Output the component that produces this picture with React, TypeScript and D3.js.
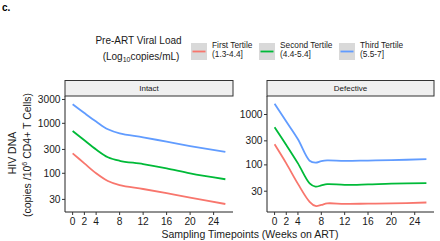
import React from "react";
import * as d3 from "d3";

const weeksIntact = [0, 2, 4, 6, 8, 12, 16, 20, 26];
const intactFirst = [251, 158, 100, 70, 58, 48.5, 40, 32.5, 24.3];
const intactSecond = [701, 457, 299, 209, 178, 153, 126, 100, 76];
const intactThird = [2400, 1603, 1084, 759, 631, 525, 429, 351, 267];

const weeksDefective = [0, 2, 4, 6, 7, 8, 9, 12, 16, 20, 26];
const defFirst = [256, 107, 42, 18.5, 15.3, 16, 17.2, 16.8, 17, 17.2, 17.9];
const defSecond = [560, 248, 107, 43, 37, 39, 41.5, 40, 41, 42.5, 43.6];
const defThird = [1637, 725, 322, 121, 111, 119, 123, 120, 122, 124, 130];

const xTicks = [0, 2, 4, 8, 12, 16, 20, 24];
const intactYTicks = [30, 100, 300, 1000, 3000];
const defYTicks = [30, 100, 300, 1000];
const seriesColors = ["#F8766D", "#00BA38", "#619CFF"];
const legendLabels = [["First Tertile", "(1.3-4.4]"], ["Second Tertile", "(4.4-5.4]"], ["Third Tertile", "(5.5-7]"]];

const FONT = "Liberation Sans, Arial, Helvetica, sans-serif";

function Panel({ x0, x1, yDomain, yTicks, weeks, series, title }: any) {
  const top = 96, bottom = 212;
  const x = d3.scaleLinear().domain([-1.3, 27.3]).range([x0, x1]);
  const y = d3.scaleLog().domain(yDomain).range([bottom, top]);
  const line = d3.line<number>().x((_, i) => x(weeks[i])).y((d) => y(d)).curve(d3.curveCatmullRom.alpha(0.5));
  return (
    <g>
      <rect x={x0} y={80.5} width={x1 - x0} height={15.5} fill="#F0F0F0" stroke="#333" strokeWidth={1} />
      <text x={(x0 + x1) / 2} y={91} fontSize={8} textAnchor="middle" fill="#1a1a1a" fontFamily={FONT}>{title}</text>
      {series.map((s: number[], i: number) => (
        <path key={i} d={line(s) || ""} fill="none" stroke={seriesColors[i]} strokeWidth={1.8} strokeLinejoin="round" />
      ))}
      <line x1={x0} x2={x0} y1={top} y2={bottom} stroke="#222" strokeWidth={1} />
      <line x1={x0} x2={x1} y1={bottom} y2={bottom} stroke="#222" strokeWidth={1} />
      {yTicks.map((t: number) => (
        <g key={t}>
          <line x1={x0 - 3} x2={x0} y1={y(t)} y2={y(t)} stroke="#333" strokeWidth={1} />
          <text x={x0 - 4.5} y={y(t) + 3.6} fontSize={10.2} textAnchor="end" fill="#1a1a1a" fontFamily={FONT}>{t}</text>
        </g>
      ))}
      {xTicks.map((t) => (
        <g key={t}>
          <line x1={x(t)} x2={x(t)} y1={bottom} y2={bottom + 3} stroke="#333" strokeWidth={1} />
          <text x={x(t)} y={bottom + 13} fontSize={10.2} textAnchor="middle" fill="#1a1a1a" fontFamily={FONT}>{t}</text>
        </g>
      ))}
    </g>
  );
}

export default function App() {
  return (
    <svg width={440} height={241} style={{ position: "absolute", left: 0, top: 0 }} fontFamily={FONT}>
      <rect width={440} height={241} fill="#fff" />
      <text x={2} y={11} fontSize={10} fontWeight="bold" fill="#000">c.</text>
      <text x={138.5} y={43.5} fontSize={10} textAnchor="middle" fill="#1a1a1a">Pre-ART Viral Load</text>
      <text x={141} y={60} fontSize={10} textAnchor="middle" fill="#1a1a1a">
        (Log<tspan fontSize={7} dy={2}>10</tspan><tspan dy={-2}>copies/mL)</tspan>
      </text>
      {legendLabels.map((lab, i) => {
        const bx = [191, 259, 339][i];
        return (
          <g key={i}>
            <rect x={bx} y={43} width={16} height={17} fill="#D9D9D9" />
            <line x1={bx + 1.5} x2={bx + 14.5} y1={51.5} y2={51.5} stroke={seriesColors[i]} strokeWidth={1.8} />
            <text x={bx + 21} y={48} fontSize={8.3} fill="#1a1a1a">{lab[0]}</text>
            <text x={bx + 21} y={57} fontSize={8.3} fill="#1a1a1a">{lab[1]}</text>
          </g>
        );
      })}
      <Panel x0={65} x1={233} yDomain={[16.8, 3520]} yTicks={intactYTicks} weeks={weeksIntact}
        series={[intactFirst, intactSecond, intactThird]} title="Intact" />
      <Panel x0={267} x1={434} yDomain={[11.6, 2330]} yTicks={defYTicks} weeks={weeksDefective}
        series={[defFirst, defSecond, defThird]} title="Defective" />
      <text transform="translate(16,153) rotate(-90)" fontSize={10.5} textAnchor="middle" fill="#1a1a1a">HIV DNA</text>
      <text transform="translate(31,155) rotate(-90)" fontSize={10.5} textAnchor="middle" fill="#1a1a1a">
        (copies /10<tspan fontSize={7} dy={-4}>6</tspan><tspan dy={4}> CD4+ T Cells)</tspan>
      </text>
      <text x={250} y={238} fontSize={10.5} textAnchor="middle" fill="#1a1a1a">Sampling Timepoints (Weeks on ART)</text>
    </svg>
  );
}
